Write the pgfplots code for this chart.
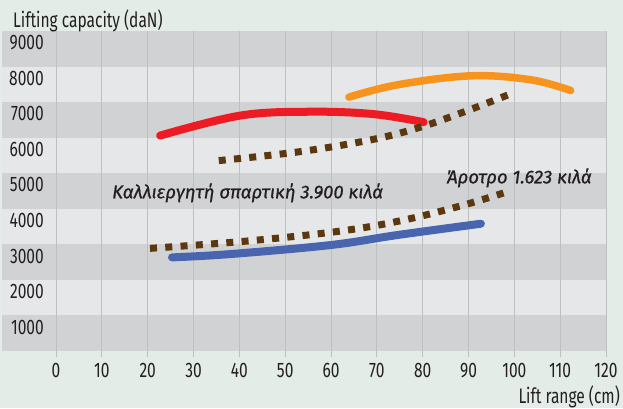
\documentclass[border=0pt]{standalone}
\usepackage{fontspec}
\setmainfont{Fira Sans}[FakeStretch=0.74]
\newfontfamily\grk{Fira Sans}[ItalicFeatures={FakeBold=0.8}]
\usepackage{pgfplots}
\pgfplotsset{compat=1.18}
\definecolor{bgc}{HTML}{E3ECE7}
\definecolor{darkband}{HTML}{D1D2D4}
\definecolor{lightband}{HTML}{E6E7E9}
\definecolor{gridc}{HTML}{BEBFC1}
\definecolor{txt}{HTML}{231F20}
\definecolor{cred}{HTML}{ED1C24}
\definecolor{corange}{HTML}{F7941D}
\definecolor{cblue}{HTML}{4A65B0}
\definecolor{cbrown}{HTML}{5C3810}
\begin{document}
\begin{tikzpicture}
\begin{axis}[
  set layers,
  at={(2pt,57pt)}, anchor=south west,
  scale only axis, width=604pt, height=320pt,
  xmin=-11.8, xmax=120, ymin=330, ymax=9330,
  axis line style={draw=none},
  xtick={0,10,...,120},
  ytick={1000,2000,...,9000},
  xtick pos=bottom, tick align=outside,
  major tick length=6pt,
  xtick style={draw=gridc, line width=1pt},
  ytick style={draw=none},
  xmajorgrids, major grid style={draw=gridc, line width=1pt},
  /pgf/number format/assume math mode=true,
  /pgf/number format/1000 sep={},
  tick label style={font=\fontsize{21}{24}\selectfont, text=txt},
  xticklabel style={anchor=north, inner sep=0pt, yshift=-6pt},
  yticklabel style={anchor=east, inner sep=0pt, xshift=48pt},
  clip=false,
]
\begin{pgfonlayer}{axis background}
\fill[bgc] (rel axis cs:-0.00331,-0.178125) rectangle (rel axis cs:1.02815,1.096875);
\fill[darkband] (axis cs:-11.8,330) rectangle (axis cs:120,1330);
\fill[lightband] (axis cs:-11.8,1330) rectangle (axis cs:120,2330);
\fill[darkband] (axis cs:-11.8,2330) rectangle (axis cs:120,3330);
\fill[lightband] (axis cs:-11.8,3330) rectangle (axis cs:120,4330);
\fill[darkband] (axis cs:-11.8,4330) rectangle (axis cs:120,5330);
\fill[lightband] (axis cs:-11.8,5330) rectangle (axis cs:120,6330);
\fill[darkband] (axis cs:-11.8,6330) rectangle (axis cs:120,7330);
\fill[lightband] (axis cs:-11.8,7330) rectangle (axis cs:120,8330);
\fill[darkband] (axis cs:-11.8,8330) rectangle (axis cs:120,9330);
\end{pgfonlayer}
% red
\addplot[cred, line width=8pt, line cap=round, smooth, tension=0.6] coordinates {
 (22.7,6389) (40.2,6952) (55.5,7060) (69.3,6992) (80.2,6766)};
% orange
\addplot[corange, line width=7.5pt, line cap=round, smooth, tension=0.6] coordinates {
 (63.9,7470) (74.5,7817) (90.5,8070) (103.6,7958) (112.3,7656)};
% upper dotted
\addplot[cbrown, line width=7pt, dash pattern=on 7pt off 8.3pt, smooth, tension=0.6] coordinates {
 (35.5,5685) (53.3,5938) (69.4,6287) (79.9,6642) (89.8,7093) (99.2,7563)};
% lower dotted
\addplot[cbrown, line width=7pt, dash pattern=on 7pt off 8.3pt, smooth, tension=0.6] coordinates {
 (20.5,3217) (41.7,3423) (62.1,3704) (75.9,4014) (89.0,4437) (99.2,4839)};
% blue
\addplot[cblue, line width=8pt, line cap=round, smooth, tension=0.6] coordinates {
 (25.3,2963) (38.0,3056) (59.9,3310) (74.5,3592) (92.7,3910)};
\end{axis}
\node[anchor=base west, inner sep=0pt, text=txt, font=\fontsize{21}{24}\selectfont] at (13pt,380pt) {Lifting capacity (daN)};
\node[anchor=base east, inner sep=0pt, text=txt, font=\fontsize{21}{24}\selectfont] at (620pt,5pt) {Lift range (cm)};
\node[anchor=base west, inner sep=0pt, text=txt, font=\grk\itshape\fontsize{18.5}{21}\selectfont] at (112pt,209.7pt) {Καλλιεργητή σπαρτική 3.900 κιλά};
\node[anchor=base west, inner sep=0pt, text=txt, font=\grk\itshape\fontsize{18.5}{21}\selectfont] at (447pt,224.7pt) {Άροτρο 1.623 κιλά};
\pgfresetboundingbox
\useasboundingbox (0,0) rectangle (623pt,408pt);
\end{tikzpicture}
\end{document}
